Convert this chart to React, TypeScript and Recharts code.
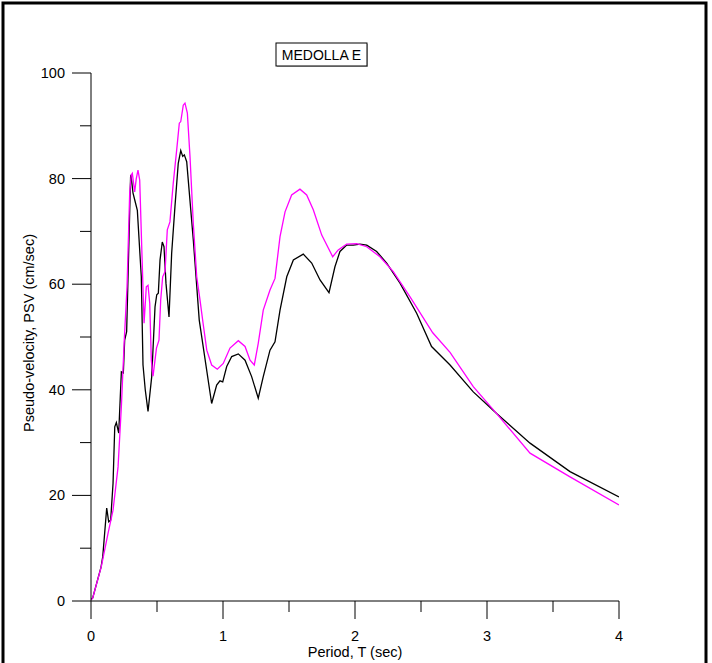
import React from 'react';
import { LineChart, Line, XAxis, YAxis } from 'recharts';

const periodBlack = [0, 0.013, 0.076, 0.089, 0.119, 0.134, 0.149, 0.167, 0.18, 0.192, 0.21, 0.23, 0.245, 0.255, 0.27, 0.3, 0.303, 0.318, 0.331, 0.351, 0.381, 0.394, 0.411, 0.432, 0.46, 0.485, 0.498, 0.51, 0.523, 0.54, 0.553, 0.568, 0.591, 0.611, 0.636, 0.661, 0.68, 0.695, 0.707, 0.725, 0.775, 0.82, 0.914, 0.952, 0.977, 0.998, 1.028, 1.066, 1.116, 1.167, 1.217, 1.267, 1.305, 1.356, 1.394, 1.432, 1.483, 1.533, 1.608, 1.672, 1.735, 1.803, 1.848, 1.886, 1.937, 1.987, 2.038, 2.089, 2.164, 2.24, 2.341, 2.467, 2.58, 2.72, 2.896, 3.073, 3.326, 3.629, 4.0];
const psvBlack = [0.3, 0.6, 6.4, 8.4, 17.6, 15.0, 15.3, 22.3, 33.0, 33.8, 31.8, 43.4, 43.2, 49.4, 51.0, 80.4, 80.7, 77.3, 76.0, 74.0, 61.4, 44.7, 40.0, 35.9, 42.5, 55.7, 58.0, 58.3, 64.6, 68.0, 67.1, 60.2, 53.8, 65.8, 74.7, 82.9, 85.3, 84.2, 84.5, 83.2, 68.4, 53.2, 37.4, 40.9, 41.7, 41.5, 44.4, 46.3, 46.8, 45.6, 42.5, 38.4, 42.5, 47.5, 49.1, 55.1, 61.4, 64.6, 65.7, 64.0, 60.8, 58.4, 63.3, 66.2, 67.4, 67.4, 67.6, 67.4, 66.2, 64.0, 60.2, 54.5, 48.2, 44.7, 39.6, 35.5, 29.9, 24.5, 19.7];

const periodMagenta = [0, 0.013, 0.078, 0.129, 0.167, 0.205, 0.23, 0.252, 0.273, 0.293, 0.305, 0.313, 0.331, 0.343, 0.356, 0.369, 0.402, 0.419, 0.432, 0.445, 0.457, 0.47, 0.496, 0.515, 0.528, 0.543, 0.561, 0.578, 0.598, 0.623, 0.649, 0.669, 0.68, 0.699, 0.712, 0.73, 0.75, 0.775, 0.801, 0.826, 0.848, 0.877, 0.914, 0.957, 1.002, 1.053, 1.116, 1.167, 1.205, 1.237, 1.267, 1.305, 1.356, 1.394, 1.432, 1.47, 1.52, 1.583, 1.634, 1.684, 1.748, 1.831, 1.873, 1.937, 2.013, 2.089, 2.189, 2.29, 2.417, 2.589, 2.72, 2.896, 3.073, 3.326, 3.629, 4.0];
const psvMagenta = [0.2, 0.6, 6.5, 12.8, 17.2, 25.4, 36.8, 49.4, 59.5, 77.2, 80.7, 81.0, 77.5, 80.0, 81.6, 79.7, 52.6, 59.5, 59.8, 56.4, 45.6, 42.6, 47.9, 49.4, 57.0, 61.4, 62.4, 70.3, 71.8, 79.1, 85.4, 90.5, 90.8, 93.9, 94.3, 92.4, 84.2, 71.5, 61.4, 57.0, 52.8, 47.5, 44.7, 43.9, 45.0, 47.9, 49.3, 48.2, 45.6, 44.7, 48.8, 55.1, 58.9, 61.1, 69.0, 73.7, 76.9, 78.0, 76.9, 74.1, 69.3, 65.2, 66.5, 67.6, 67.7, 67.1, 65.2, 62.4, 57.6, 50.8, 47.1, 40.6, 35.5, 28.0, 23.5, 18.2];

const xTicks = [0, 0.5, 1, 1.5, 2, 2.5, 3, 3.5, 4];
const yTicks = [0, 10, 20, 30, 40, 50, 60, 70, 80, 90, 100];
const titleText = 'MEDOLLA E';
const xLabel = 'Period, T (sec)';
const yLabel = 'Pseudo-velocity, PSV (cm/sec)';

const blackData = periodBlack.map((t, i) => ({ t, v: psvBlack[i] }));
const magentaData = periodMagenta.map((t, i) => ({ t, v: psvMagenta[i] }));

const FONT = "'Liberation Sans', Arial, sans-serif";

const XTick = (props: any) => {
  const { x, y, payload } = props;
  const major = Number.isInteger(payload.value);
  return (
    <g>
      <line x1={x} y1={y} x2={x} y2={y + (major ? 18 : 11)} stroke="#000" strokeWidth={1} />
      {major && (
        <text x={x} y={y + 40} textAnchor="middle" fontFamily={FONT} fontSize={14.5} fill="#000">
          {payload.value}
        </text>
      )}
    </g>
  );
};

const YTick = (props: any) => {
  const { x, y, payload } = props;
  const major = payload.value % 20 === 0;
  return (
    <g>
      <line x1={x - (major ? 19 : 11)} y1={y} x2={x} y2={y} stroke="#000" strokeWidth={1} />
      {major && (
        <text x={x - 26} y={y + 5} textAnchor="end" fontFamily={FONT} fontSize={14.5} fill="#000">
          {payload.value}
        </text>
      )}
    </g>
  );
};

export default function App() {
  return (
    <div style={{ position: 'absolute', left: 0, top: 0, width: 712, height: 663, background: '#fff' }}>
      <LineChart width={712} height={663} margin={{ top: 73, right: 93, bottom: 0, left: 0 }}>
        <XAxis
          dataKey="t"
          type="number"
          domain={[0, 4]}
          ticks={xTicks}
          allowDataOverflow
          height={62}
          tickSize={0}
          tickMargin={0}
          tickLine={false}
          axisLine={{ stroke: '#000', strokeWidth: 1 }}
          tick={<XTick />}
          interval={0}
        />
        <YAxis
          dataKey="v"
          type="number"
          domain={[0, 100]}
          ticks={yTicks}
          allowDataOverflow
          width={91}
          tickSize={0}
          tickMargin={0}
          tickLine={false}
          axisLine={{ stroke: '#000', strokeWidth: 1 }}
          tick={<YTick />}
          interval={0}
        />
        <Line data={blackData} dataKey="v" type="linear" stroke="#000" strokeWidth={1.3} dot={false} isAnimationActive={false} />
        <Line data={magentaData} dataKey="v" type="linear" stroke="#ff00ff" strokeWidth={1.3} dot={false} isAnimationActive={false} />
      </LineChart>
      <svg width={712} height={663} style={{ position: 'absolute', left: 0, top: 0, pointerEvents: 'none' }}>
        <path d="M3,663 V3 H706 V663" fill="none" stroke="#000" strokeWidth={3} />
        <rect x={277} y={44} width={91} height={23} fill="#bbb" />
        <rect x={276} y={43} width={91} height={23} fill="#fff" stroke="#000" strokeWidth={1} />
        <text x={321.5} y={60} textAnchor="middle" fontFamily={FONT} fontSize={14} fill="#000">{titleText}</text>
        <text x={355} y={657} textAnchor="middle" fontFamily={FONT} fontSize={14.5} fill="#000">{xLabel}</text>
        <text x={34} y={333} textAnchor="middle" fontFamily={FONT} fontSize={14.5} fill="#000" transform="rotate(-90 34 333)">{yLabel}</text>
      </svg>
    </div>
  );
}
